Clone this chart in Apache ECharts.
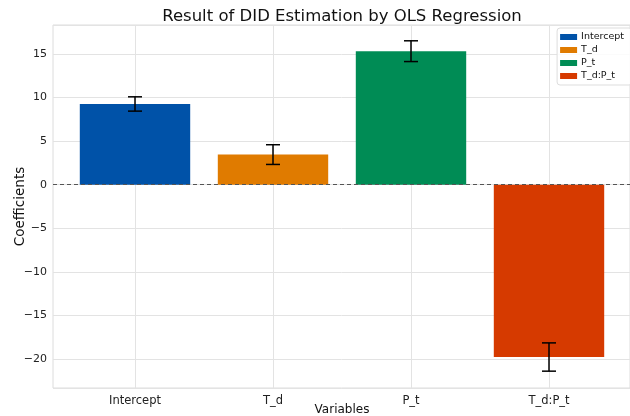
<!DOCTYPE html>
<html>
<head>
<meta charset="utf-8">
<script src="https://cdn.jsdelivr.net/npm/echarts@6/dist/echarts.min.js"></script>
<style>
html,body{margin:0;padding:0;background:#fff;}
#chart{width:630px;height:416px;}
</style>
</head>
<body>
<div id="chart"></div>
<script>
const categories = ['Intercept', 'T_d', 'P_t', 'T_d:P_t'];
const coefficients = [9.25, 3.45, 15.3, -19.75];
const errors = [0.82, 1.13, 1.19, 1.62];
const colors = ['#0052a8', '#e07b00', '#008c55', '#d63a00'];
const yMin = -23.3, yMax = 18.3;

const FONT = 'DejaVu Sans';
const chart = echarts.init(document.getElementById('chart'), null, {renderer: 'canvas'});

const barSeries = categories.map((name, i) => ({
  name: name,
  type: 'bar',
  xAxisIndex: 1,
  yAxisIndex: 1,
  barGap: '-100%',
  barWidth: '80%',
  clip: false,
  itemStyle: {color: colors[i]},
  data: categories.map((c, j) => j === i ? coefficients[j] : '-'),
  z: 3
}));

const errorSeries = {
  type: 'custom',
  xAxisIndex: 1,
  yAxisIndex: 1,
  clip: false,
  z: 5,
  data: categories.map((c, i) => [i, coefficients[i] - errors[i], coefficients[i] + errors[i]]),
  renderItem: function (params, api) {
    const lo = api.coord([api.value(0), api.value(1)]);
    const hi = api.coord([api.value(0), api.value(2)]);
    const cap = 7;
    const st = {stroke: '#000', lineWidth: 1.5};
    return {
      type: 'group',
      children: [
        {type: 'line', shape: {x1: lo[0], y1: lo[1], x2: hi[0], y2: hi[1]}, style: st},
        {type: 'line', shape: {x1: lo[0] - cap, y1: lo[1], x2: lo[0] + cap, y2: lo[1]}, style: st},
        {type: 'line', shape: {x1: hi[0] - cap, y1: hi[1], x2: hi[0] + cap, y2: hi[1]}, style: st}
      ]
    };
  }
};

const zeroLine = {
  type: 'line',
  xAxisIndex: 0,
  yAxisIndex: 0,
  data: [],
  silent: true,
  markLine: {
    silent: true,
    symbol: 'none',
    label: {show: false},
    lineStyle: {color: '#555', type: [4, 3], width: 1.2},
    data: [{yAxis: 0}]
  },
  z: 4
};

chart.setOption({
  animation: false,
  backgroundColor: '#fff',
  textStyle: {fontFamily: FONT},
  title: {
    text: 'Result of DID Estimation by OLS Regression',
    left: 337, top: 3, textAlign: 'center',
    textStyle: {fontFamily: FONT, fontSize: 16.5, fontWeight: 'normal', color: '#111'}
  },
  legend: {
    data: categories,
    orient: 'vertical',
    right: -2, top: 28,
    itemWidth: 17, itemHeight: 6, itemGap: 3,
    padding: [4, 8, 4, 3],
    borderColor: '#ddd', borderWidth: 1, borderRadius: 3,
    backgroundColor: 'rgba(255,255,255,0.85)',
    icon: 'rect',
    textStyle: {fontFamily: FONT, fontSize: 9.5, color: '#111', padding: [0, 0, 0, -1]}
  },
  grid: [
    {left: 53, right: 0, top: 25, bottom: 28, outerBoundsMode: 'none', show: true, borderColor: '#dcdcdc', borderWidth: 1, backgroundColor: 'transparent'},
    {left: 135, right: 81, top: 25, bottom: 28, outerBoundsMode: 'none'}
  ],
  xAxis: [
    {type: 'value', gridIndex: 0, min: 0, max: 1, show: false},
    {
      type: 'category', gridIndex: 1, data: categories, boundaryGap: false,
      name: 'Variables', nameLocation: 'middle', nameGap: 16, nameMoveOverlap: false,
      nameTextStyle: {fontFamily: FONT, fontSize: 12, color: '#111'},
      axisLine: {show: false}, axisTick: {show: false},
      axisLabel: {fontFamily: FONT, fontSize: 11.5, color: '#222', margin: 7},
      splitLine: {show: true, lineStyle: {color: '#e3e3e3', width: 1}}
    }
  ],
  yAxis: [
    {
      type: 'value', gridIndex: 0, min: yMin, max: yMax, splitNumber: 8,
      name: 'Coefficients', nameLocation: 'middle', nameGap: 26, nameMoveOverlap: false,
      nameTextStyle: {fontFamily: FONT, fontSize: 13.5, color: '#111'},
      axisLine: {show: false}, axisTick: {show: false},
      axisLabel: {fontFamily: FONT, fontSize: 11, color: '#222', margin: 6, showMinLabel: false, showMaxLabel: false,
        formatter: v => (v < 0 ? '\u2212' + Math.abs(v) : String(v))},
      splitLine: {show: true, lineStyle: {color: '#e3e3e3', width: 1}}
    },
    {type: 'value', gridIndex: 1, min: yMin, max: yMax, show: false, splitLine: {show: false}}
  ],
  series: [zeroLine, ...barSeries, errorSeries]
});
</script>
</body>
</html>
